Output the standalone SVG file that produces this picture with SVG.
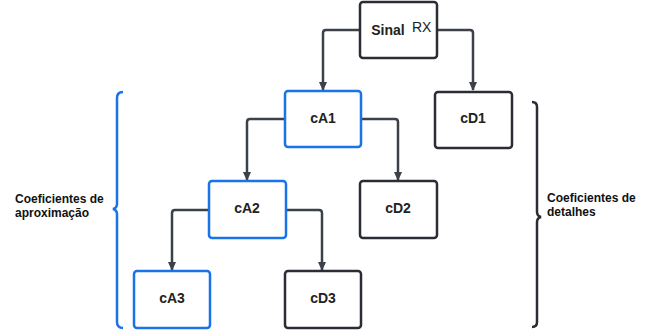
<svg xmlns="http://www.w3.org/2000/svg" width="660" height="331" viewBox="0 0 660 331">
<style>
.box{fill:#fff;stroke-width:2.5}
.dark{stroke:#2a2d33}
.blue{stroke:#1a73e8}
.lbl{font-family:"Liberation Sans",Arial,sans-serif;font-weight:bold;font-size:14px;fill:#222;text-anchor:middle}
.side{font-family:"Liberation Sans",Arial,sans-serif;font-weight:bold;font-size:12px;fill:#111}
.conn{fill:none;stroke:#3b4049;stroke-width:2.5;stroke-linejoin:round}
</style>
<defs>
<marker id="ah" markerWidth="10" markerHeight="10" refX="8" refY="5" orient="auto" markerUnits="userSpaceOnUse">
<path d="M0,1 L9,5 L0,9 Z" fill="#3b4049"/>
</marker>
</defs>
<rect width="660" height="331" fill="#fff"/>
<g id="connectors">
<path class="conn" d="M360,30 H326 Q323,30 323,33 V90" marker-end="url(#ah)"/>
<path class="conn" d="M437,30 H470 Q473,30 473,33 V90" marker-end="url(#ah)"/>
<path class="conn" d="M285,119 H250 Q247,119 247,122 V180" marker-end="url(#ah)"/>
<path class="conn" d="M361,119 H395 Q398,119 398,122 V180" marker-end="url(#ah)"/>
<path class="conn" d="M209,210 H175 Q172,210 172,213 V270" marker-end="url(#ah)"/>
<path class="conn" d="M286,210 H319 Q322,210 322,213 V270" marker-end="url(#ah)"/>
</g>
<g id="sinal">
<rect class="box dark" x="360" y="2" width="77" height="56" rx="3"/>
<text class="lbl" x="388" y="35">Sinal</text>
<text x="412" y="32" font-family="Liberation Sans,Arial,sans-serif" font-size="14" fill="#222">RX</text>
</g>
<g id="cA1">
<rect class="box blue" x="285" y="91" width="76" height="56" rx="3"/>
<text class="lbl" x="323" y="123">cA1</text>
</g>
<g id="cD1">
<rect class="box dark" x="435" y="92" width="77" height="56" rx="3"/>
<text class="lbl" x="473" y="123">cD1</text>
</g>
<g id="cA2">
<rect class="box blue" x="209" y="181" width="77" height="57" rx="3"/>
<text class="lbl" x="247" y="213">cA2</text>
</g>
<g id="cD2">
<rect class="box dark" x="360" y="181" width="77" height="57" rx="3"/>
<text class="lbl" x="398" y="213">cD2</text>
</g>
<g id="cA3">
<rect class="box blue" x="134" y="271" width="76" height="57" rx="3"/>
<text class="lbl" x="172" y="303">cA3</text>
</g>
<g id="cD3">
<rect class="box dark" x="285" y="271" width="76" height="57" rx="3"/>
<text class="lbl" x="323" y="303">cD3</text>
</g>
<g id="brace-left">
<path d="M123,92 Q117,92 117,98 V204 Q117,208 113,209 Q117,210 117,214 V322 Q117,328 123,328" fill="none" stroke="#1a73e8" stroke-width="2.5"/>
<text class="side" x="15" y="203">Coeficientes de</text>
<text class="side" x="15" y="217">aproximação</text>
</g>
<g id="brace-right">
<path d="M532,102 Q537,102 537,107 V212 Q537,216 541,217 Q537,218 537,222 V322 Q537,327 532,327" fill="none" stroke="#2a2d33" stroke-width="2.5"/>
<text class="side" x="547" y="202">Coeficientes de</text>
<text class="side" x="547" y="216">detalhes</text>
</g>
</svg>
